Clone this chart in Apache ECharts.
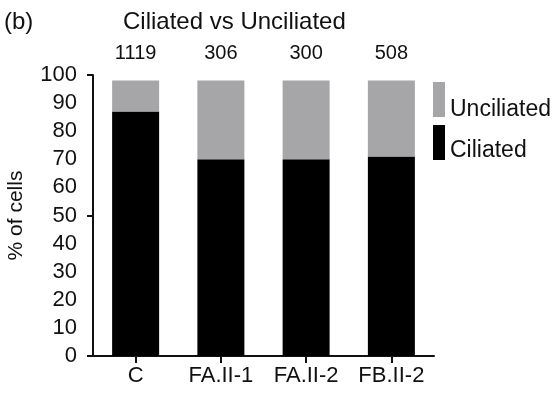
<!DOCTYPE html>
<html>
<head>
<meta charset="utf-8">
<script src="https://cdn.jsdelivr.net/npm/echarts@6/dist/echarts.min.js"></script>
<style>
html,body{margin:0;padding:0;background:#fff;}
#chart{width:555px;height:396px;}
</style>
</head>
<body>
<div id="chart"></div>
<script>
var categories = ['C', 'FA.II-1', 'FA.II-2', 'FB.II-2'];
var ciliated = [87, 70, 70, 71];
var unciliated = [11, 28, 28, 27];
var counts = [1119, 306, 300, 508];
var yTickLabels = [0, 10, 20, 30, 40, 50, 60, 70, 80, 90, 100];

var FONT = '"Liberation Sans", Arial, Helvetica, sans-serif';
var chart = echarts.init(document.getElementById('chart'));
chart.setOption({
  animation: false,
  backgroundColor: '#fff',
  textStyle: { fontFamily: FONT },
  title: [
    { text: '(b)', left: 4, top: 10, padding: 0,
      textStyle: { fontFamily: FONT, fontSize: 24, fontWeight: 'normal', color: '#111' } },
    { text: 'Ciliated vs Unciliated', left: 123, top: 10, padding: 0,
      textStyle: { fontFamily: FONT, fontSize: 24, fontWeight: 'normal', color: '#111' } }
  ],
  legend: [
    { data: ['Unciliated'], left: 433, top: 82, padding: 0, orient: 'vertical',
      itemWidth: 12, itemHeight: 35, icon: 'rect', selectedMode: false,
      formatter: '{a|{name}}',
      textStyle: { fontFamily: FONT, fontSize: 23, color: '#111',
        rich: { a: { fontFamily: FONT, fontSize: 23, color: '#111', padding: [21, 0, 0, 0] } } } },
    { data: ['Ciliated'], left: 433, top: 125, padding: 0, orient: 'vertical',
      itemWidth: 12, itemHeight: 35, icon: 'rect', selectedMode: false,
      formatter: '{a|{name}}',
      textStyle: { fontFamily: FONT, fontSize: 23, color: '#111',
        rich: { a: { fontFamily: FONT, fontSize: 23, color: '#111', padding: [17, 0, 0, 0] } } } }
  ],
  grid: { left: 93, right: 121, top: 75, bottom: 40, containLabel: false, outerBoundsMode: 'none' },
  xAxis: {
    type: 'category',
    data: categories,
    axisLine: { show: true, onZero: false, lineStyle: { color: '#111', width: 2 } },
    axisTick: { show: true, alignWithLabel: true, length: 7, lineStyle: { color: '#111', width: 2 } },
    axisLabel: { show: true, interval: 0, hideOverlap: false, fontFamily: FONT, fontSize: 22, color: '#111', margin: 9 }
  },
  yAxis: [
    {
      type: 'value', min: 0, max: 100, interval: 10, position: 'left',
      name: '% of cells', nameLocation: 'middle', nameGap: 66, nameRotate: 90,
      nameTextStyle: { fontFamily: FONT, fontSize: 21, color: '#111' },
      axisLine: { show: true, lineStyle: { color: '#111', width: 2 } },
      axisTick: { show: false },
      splitLine: { show: false },
      axisLabel: { fontFamily: FONT, fontSize: 22, color: '#111', margin: 16,
        formatter: function (v) { return yTickLabels.indexOf(v) >= 0 ? String(v) : ''; } }
    },
    {
      type: 'value', min: 0, max: 100, interval: 50, position: 'left',
      axisLine: { show: false },
      axisTick: { show: true, length: 6, lineStyle: { color: '#111', width: 2 } },
      splitLine: { show: false },
      axisLabel: { show: false }
    }
  ],
  series: [
    {
      name: 'Ciliated', type: 'bar', stack: 'total', barWidth: 47,
      data: ciliated,
      itemStyle: { color: '#000' }
    },
    {
      name: 'Unciliated', type: 'bar', stack: 'total', barWidth: 47,
      data: unciliated,
      itemStyle: { color: '#a6a6a9' },
      label: {
        show: true, position: 'top', distance: 17,
        fontFamily: FONT, fontSize: 20, color: '#111',
        formatter: function (p) { return String(counts[p.dataIndex]); }
      }
    }
  ]
});
</script>
</body>
</html>
